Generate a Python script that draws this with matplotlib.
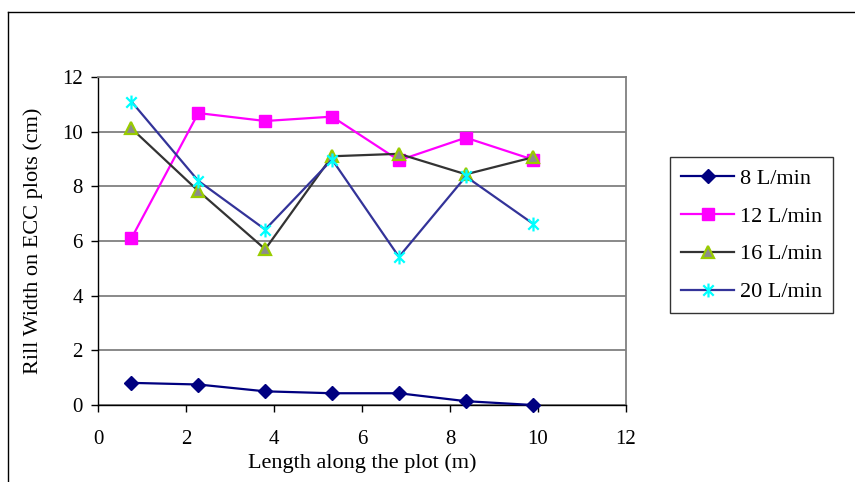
import matplotlib.pyplot as plt
from matplotlib.path import Path
from matplotlib.lines import Line2D

plt.rcParams['font.family'] = ['Liberation Serif', 'DejaVu Serif']

# distance along the plot (m) and rill widths (cm) for each flow rate
length = [0.76, 2.28, 3.8, 5.32, 6.84, 8.36, 9.88]
w8 = [0.81, 0.75, 0.50, 0.43, 0.43, 0.14, 0.0]
w12 = [6.1, 10.68, 10.39, 10.55, 8.95, 9.78, 8.98]
w16 = [10.12, 7.83, 5.7, 9.1, 9.19, 8.44, 9.06]
w20 = [11.1, 8.2, 6.42, 8.98, 5.42, 8.36, 6.64]
labels = ['8 L/min', '12 L/min', '16 L/min', '20 L/min']

# asterisk marker: vertical stroke plus an X
star = Path([(0, -1), (0, 1), (-0.75, -0.75), (0.75, 0.75), (-0.75, 0.75), (0.75, -0.75)],
            [Path.MOVETO, Path.LINETO, Path.MOVETO, Path.LINETO, Path.MOVETO, Path.LINETO])

fig = plt.figure(figsize=(8.55, 4.82), dpi=100)
ax = fig.add_axes([98/855, 1-405/482, 528/855, 328/482])

ax.plot(length, w8, color='#000080', lw=1.6, marker='D', ms=7, mfc='#000080', mec='#000080',
        label=labels[0], clip_on=False, zorder=5)
ax.plot(length, w12, color='#FF00FF', lw=1.6, marker='s', ms=8, mfc='#FF00FF', mec='#FF00FF',
        label=labels[1], clip_on=False, zorder=4)
ax.plot(length, w16, color='#333333', lw=1.6, marker='^', ms=9, mfc='#8C8C8C', mec='#99CC00',
        mew=1.6, label=labels[2], clip_on=False, zorder=4)
ax.plot(length, w20, color='#333399', lw=1.6, marker=star, ms=10, mec='#00FFFF', mew=1.6,
        label=labels[3], clip_on=False, zorder=4)

ax.set_xlim(0, 12)
ax.set_ylim(0, 12)
ax.set_xticks(range(0, 13, 2))
ax.set_yticks(range(0, 13, 2))
ax.yaxis.grid(True, color='#808080', lw=1.3)
ax.set_axisbelow(True)
ax.tick_params(direction='out', length=5, width=1, labelsize=15, colors='black')
ax.tick_params(axis='x', pad=13)
ax.tick_params(axis='y', pad=6)

for s in ['top', 'right']:
    ax.spines[s].set_color('#808080')
    ax.spines[s].set_linewidth(1.3)
for s in ['left', 'bottom']:
    ax.spines[s].set_color('black')
    ax.spines[s].set_linewidth(1)

ax.set_xlabel('Length along the plot (m)', fontsize=16, labelpad=3)
ax.set_ylabel('Rill Width on ECC plots (cm)', fontsize=16, labelpad=14)

leg = ax.legend(loc='upper left', bbox_to_anchor=(670/855, 1-157/482),
                bbox_transform=fig.transFigure, fontsize=16, frameon=True,
                fancybox=False, edgecolor='black', handlelength=2.4,
                labelspacing=0.78, borderpad=0.5, borderaxespad=0,
                handletextpad=0.25)
leg.get_frame().set_linewidth(1)

# chart area border
fig.add_artist(Line2D([8/855, 1], [1-12/482, 1-12/482], color='black', lw=1))
fig.add_artist(Line2D([8/855, 8/855], [0, 1-12/482], color='black', lw=1))

fig.savefig('out.png', dpi=100)
